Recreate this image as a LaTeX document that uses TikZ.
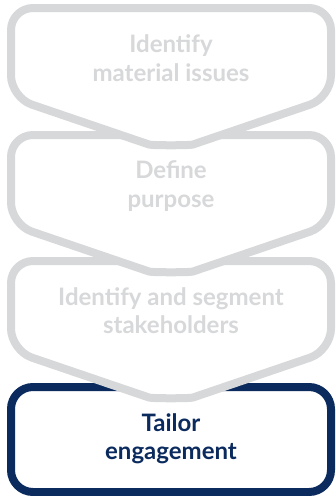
\documentclass[tikz,border=0pt]{standalone}
\usepackage{fontspec}
\setmainfont{Lato}[BoldFont={Lato Bold}]
\definecolor{lgrey}{HTML}{D7D8DA}
\definecolor{dblue}{HTML}{0B2B5E}
\tikzset{
  stepshape/.style={draw=lgrey, line width=8pt, fill=white, rounded corners=22pt, line join=round},
  lastshape/.style={draw=dblue, line width=8pt, fill=white, rounded corners=22pt},
  steptext/.style={text=lgrey, font=\fontsize{24}{28.5}\selectfont\bfseries, align=center, inner sep=0pt, anchor=base},
  lasttext/.style={text=dblue, font=\fontsize{24}{28.5}\selectfont\bfseries, align=center, inner sep=0pt, anchor=base}
}
\newcommand\chevshape[1]{%
  \begin{scope}[yshift=-#1pt]
    \draw[stepshape] (171,0) -- (331,0) -- (331,89.5) -- (213.6,129.5)
      .. controls (190,137.5) and (152,137.5) .. (128.4,129.5)
      -- (11,89.5) -- (11,0) -- cycle;
  \end{scope}}
\begin{document}
\begin{tikzpicture}[x=1pt,y=-1pt]
\useasboundingbox (0,0) rectangle (336,496);
% bottom shape first so that upper chevrons overlap it
\draw[lastshape] (11,387) rectangle (331,492);
\node[lasttext] (s4) at (171,459.5) {Tailor\\engagement};
\chevshape{261}
\node[steptext] (s3) at (171,333.5) {Identify and segment\\stakeholders};
\chevshape{135}
\node[steptext] (s2) at (171,207) {Define\\purpose};
\chevshape{8}
\node[steptext] (s1) at (171,81) {Identify\\material issues};
\end{tikzpicture}
\end{document}
